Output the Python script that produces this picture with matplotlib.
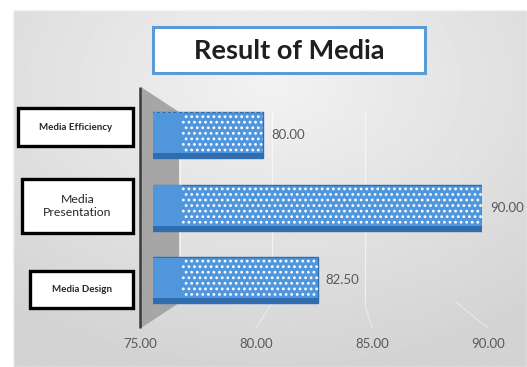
import numpy as np
import matplotlib
matplotlib.use("Agg")
import matplotlib.pyplot as plt
from matplotlib.patches import Rectangle, Polygon

# ---------------- data ----------------
categories = ["Media Design", "Media Presentation", "Media Efficiency"]
values = [82.50, 90.00, 80.00]
ticks = [75, 80, 85, 90]
title = "Result of Media"
x_min, x_max = 75, 90

# ---------------- layout (pixels) ----------------
W, H = 527, 367
plt.rcParams['font.family'] = ['Lato', 'DejaVu Sans']
plt.rcParams['hatch.linewidth'] = 1.2
fig = plt.figure(figsize=(W / 100, H / 100), dpi=100)
fig.patch.set_facecolor("white")

def fax(x0, y0, x1, y1):
    """axes rect from pixel box (top-left origin)"""
    return [x0 / W, (H - y1) / H, (x1 - x0) / W, (y1 - y0) / H]

# background / decoration axes in pixel coordinates
bg = fig.add_axes([0, 0, 1, 1], zorder=0)
bg.set_xlim(0, W)
bg.set_ylim(H, 0)
bg.axis("off")

# panel with soft radial gradient
yy, xx = np.mgrid[0:200, 0:300]
cx, cy = 150, 40
r = np.sqrt(((xx - cx) / 300) ** 2 + ((yy - cy) / 200) ** 2)
shade = 0.95 - 0.12 * np.clip(r / 0.8, 0, 1)
bg.imshow(shade, cmap="gray", vmin=0, vmax=1, extent=[13, W, H, 10],
          aspect="auto", zorder=0, interpolation="bilinear")
bg.add_patch(Rectangle((13, 10), W - 13, H - 10, fill=False,
                       edgecolor="#f4f4f4", lw=1.0, zorder=1))

# front (floor edge) and back (wall) scales
front_x0, front_x1 = 140, 488
back_x0, back_x1 = 179.5, 457
def front_px(v):
    return front_x0 + (v - x_min) * (front_x1 - front_x0) / (x_max - x_min)
def back_px(v):
    return back_x0 + (v - x_min) * (back_x1 - back_x0) / (x_max - x_min)

# side wall (3D)
wall = Polygon([(141, 87), (179, 112), (179, 303), (141, 328)],
               closed=True, facecolor="#a6a6a6", edgecolor="none", zorder=2)
bg.add_patch(wall)
bg.plot([140, 140], [87, 328], color="#3a3a3a", lw=1.8, zorder=3,
        solid_capstyle="butt")

# floor diagonals
for v in ticks[1:]:
    bg.plot([back_px(v), front_px(v)], [303, 328], color="white",
            alpha=0.45, lw=0.8, zorder=2)

# back-wall gridlines
wall_ax = fig.add_axes(fax(back_x0, 112, back_x1, 303), zorder=1)
wall_ax.set_xlim(x_min, x_max)
wall_ax.patch.set_alpha(0)
for s in wall_ax.spines.values():
    s.set_visible(False)
wall_ax.set_xticks(ticks)
wall_ax.set_yticks([])
wall_ax.tick_params(length=0, labelbottom=False)
wall_ax.grid(axis="x", color="white", alpha=0.6, lw=0.9)

# front tick labels
tick_ax = fig.add_axes(fax(front_x0, 327, front_x1, 328), zorder=1)
tick_ax.set_xlim(x_min, x_max)
tick_ax.patch.set_alpha(0)
for s in tick_ax.spines.values():
    s.set_visible(False)
tick_ax.set_yticks([])
tick_ax.set_xticks(ticks)
tick_ax.set_xticklabels([f"{t:.2f}" for t in ticks])
tick_ax.tick_params(length=0, pad=7.5, labelsize=9.5, labelcolor="#595959")

# title box
bg.add_patch(Rectangle((153, 27), 272, 46, facecolor="white",
                       edgecolor="#5b9bd5", lw=2.2, zorder=4))
bg.text(289, 51, title, ha="center", va="center", fontsize=19.5,
        fontweight="bold", color="#1f1f1f", zorder=5)

# ---------------- bars ----------------
bar_top, bar_bottom = 99, 316.5
ax = fig.add_axes(fax(153, bar_top, 482, bar_bottom), zorder=3)
ax.set_xlim(x_min, x_max)
ax.set_ylim(-0.5, len(categories) - 0.5)
ax.patch.set_alpha(0)
ax.axis("off")

y = np.arange(len(categories))
widths = [v - x_min for v in values]
bh = 0.64
ax.barh(y, widths, left=x_min, height=bh, color="#5096dc",
        edgecolor="#2f6db0", lw=1.0, zorder=2)
ax.barh(y, widths, left=x_min, height=bh, color="none",
        edgecolor="white", lw=0, hatch="...", zorder=3)
# darker underside strip
ax.barh(y - bh / 2 + 0.035, widths, left=x_min, height=0.07,
        color="#2f6db0", lw=0, zorder=4)
# plain left end of the bar
ax.barh(y, [1.3] * len(y), left=x_min, height=bh - 0.02, color="#5096dc",
        lw=0, zorder=3.5)

for yi, v in zip(y, values):
    ax.annotate(f"{v:.2f}", (v, yi), xytext=(6, 0), textcoords="offset points",
                ha="left", va="center", fontsize=9.5, color="#595959",
                annotation_clip=False)

# ---------------- category label boxes ----------------
label_boxes = {
    "Media Efficiency": ((18, 108, 133, 146), 7, "bold"),
    "Media Presentation": ((22, 179, 133, 233), 8.8, "normal"),
    "Media Design": ((30, 271, 133, 308), 7, "bold"),
}
for cat in categories:
    (x0, y0, x1, y1), fs, fw = label_boxes[cat]
    bg.add_patch(Rectangle((x0, y0), x1 - x0, y1 - y0, facecolor="white",
                           edgecolor="black", lw=2.4, zorder=4))
    txt = cat.replace(" ", "\n") if fw == "normal" else cat
    bg.text((x0 + x1) / 2, (y0 + y1) / 2, txt, ha="center", va="center",
            fontsize=fs, fontweight=fw, color="#262626", zorder=5,
            linespacing=1.2)

fig.savefig("out.png", dpi=100)
